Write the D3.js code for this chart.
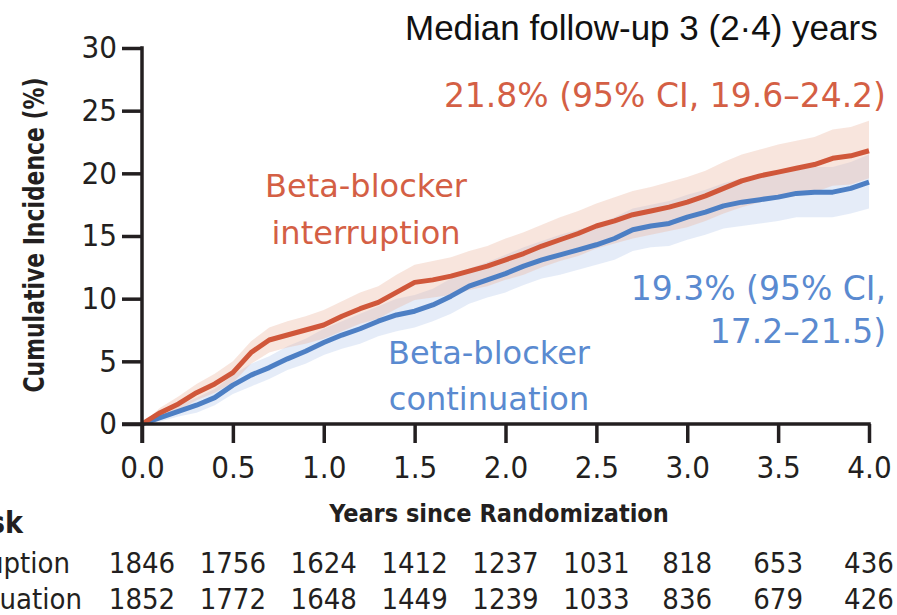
<!DOCTYPE html>
<meta charset="utf-8">
<style>
body { margin: 0; background: #fff; }
svg { display: block; background: #fff; }
.tick text { font-family: "DejaVu Sans Condensed", "DejaVu Sans", sans-serif; font-size: 31px; fill: #231f20; }
.tick line { stroke: #231f20; stroke-width: 3.5px; }
.axis-title { font-family: "DejaVu Sans Condensed", "DejaVu Sans", sans-serif; font-weight: bold; fill: #231f20; }
.risk { font-family: "DejaVu Sans Condensed", "DejaVu Sans", sans-serif; font-size: 29px; fill: #231f20; }
.note { font-family: "DejaVu Sans", sans-serif; font-size: 32px; }
</style>
<svg width="897" height="615"></svg>
<script src="https://cdn.jsdelivr.net/npm/d3@7"></script>
<script>

// years since randomization
var years = [0, 0.1, 0.2, 0.3, 0.4, 0.5, 0.6, 0.7, 0.8, 0.9, 1.0, 1.1, 1.2, 1.3, 1.4, 1.5, 1.6, 1.7, 1.8, 1.9, 2.0,
             2.1, 2.2, 2.3, 2.4, 2.5, 2.6, 2.7, 2.8, 2.9, 3.0, 3.1, 3.2, 3.3, 3.4, 3.5, 3.6, 3.7, 3.8, 3.9, 4.0];

// cumulative incidence (%), beta-blocker interruption
var interruption = [0, 0.9, 1.6, 2.5, 3.2, 4.1, 5.7, 6.7, 7.1, 7.5, 7.9, 8.6, 9.2, 9.7, 10.5, 11.3, 11.5, 11.8, 12.2, 12.6, 13.1,
                    13.6, 14.2, 14.7, 15.2, 15.8, 16.2, 16.7, 17.0, 17.3, 17.7, 18.2, 18.8, 19.4, 19.8, 20.1, 20.4, 20.7, 21.2, 21.4, 21.8];
var interruptionLo = [0, 0.5, 1.1, 1.9, 2.5, 3.3, 4.8, 5.7, 6.1, 6.4, 6.8, 7.4, 8.0, 8.4, 9.2, 9.9, 10.1, 10.3, 10.7, 11.0, 11.5,
                      11.9, 12.5, 13.0, 13.4, 14.0, 14.4, 14.8, 15.1, 15.4, 15.7, 16.2, 16.8, 17.3, 17.7, 18.0, 18.2, 18.5, 19.0, 19.1, 19.6];
var interruptionHi = [0, 1.3, 2.2, 3.2, 4.0, 5.0, 6.6, 7.7, 8.2, 8.6, 9.1, 9.8, 10.5, 11.0, 11.9, 12.7, 13.0, 13.3, 13.8, 14.2, 14.8,
                      15.3, 15.9, 16.5, 17.0, 17.6, 18.1, 18.6, 18.9, 19.3, 19.7, 20.2, 20.9, 21.5, 21.9, 22.3, 22.6, 22.9, 23.5, 23.7, 24.2];

// cumulative incidence (%), beta-blocker continuation
var continuation = [0, 0.5, 1.0, 1.5, 2.1, 3.1, 3.9, 4.5, 5.2, 5.8, 6.5, 7.1, 7.6, 8.2, 8.7, 9.0, 9.5, 10.2, 11.0, 11.5, 12.0,
                    12.6, 13.1, 13.5, 13.9, 14.3, 14.8, 15.5, 15.8, 16.0, 16.5, 16.9, 17.4, 17.7, 17.9, 18.1, 18.4, 18.5, 18.5, 18.8, 19.3];
var continuationLo = [0, 0.2, 0.6, 0.9, 1.5, 2.4, 3.0, 3.6, 4.3, 4.8, 5.5, 6.0, 6.4, 7.0, 7.4, 7.7, 8.2, 8.8, 9.6, 10.1, 10.5,
                      11.1, 11.6, 11.9, 12.3, 12.7, 13.1, 13.8, 14.1, 14.2, 14.7, 15.1, 15.6, 15.8, 16.0, 16.2, 16.5, 16.5, 16.5, 16.8, 17.2];
var continuationHi = [0, 0.8, 1.5, 2.1, 2.8, 3.9, 4.8, 5.4, 6.2, 6.8, 7.6, 8.2, 8.8, 9.4, 10.0, 10.3, 10.8, 11.6, 12.4, 12.9, 13.5,
                      14.1, 14.6, 15.1, 15.5, 15.9, 16.5, 17.2, 17.5, 17.8, 18.3, 18.7, 19.2, 19.6, 19.8, 20.0, 20.4, 20.5, 20.5, 20.9, 21.5];

// axis ticks and numbers at risk
var xTicks = [0, 0.5, 1, 1.5, 2, 2.5, 3, 3.5, 4];
var yTicks = [0, 5, 10, 15, 20, 25, 30];
var riskInterruption = [1846, 1756, 1624, 1412, 1237, 1031, 818, 653, 436];
var riskContinuation = [1852, 1772, 1648, 1449, 1239, 1033, 836, 679, 426];

var red = "#d0573a", blue = "#4d7fc4",
    redText = "#d45f45", blueText = "#5a8ad0";

var svg = d3.select("svg");

var x = d3.scaleLinear().domain([0, 4]).range([142, 869]),
    y = d3.scaleLinear().domain([0, 30]).range([424, 48]);

function band(lo, hi) {
  return d3.area()
      .x(function(d, i) { return x(years[i]); })
      .y0(function(d, i) { return y(lo[i]); })
      .y1(function(d, i) { return y(hi[i]); })(years);
}

function curve(v) {
  return d3.line()
      .x(function(d, i) { return x(years[i]); })
      .y(function(d, i) { return y(v[i]); })(years);
}

// confidence bands
svg.append("path").attr("d", band(continuationLo, continuationHi))
    .attr("fill", "#a8c0e8").attr("fill-opacity", 0.3);
svg.append("path").attr("d", band(interruptionLo, interruptionHi))
    .attr("fill", "#ebb59e").attr("fill-opacity", 0.35);

// curves
svg.append("path").attr("d", curve(continuation))
    .attr("fill", "none").attr("stroke", blue).attr("stroke-width", 5).attr("stroke-linejoin", "round");
svg.append("path").attr("d", curve(interruption))
    .attr("fill", "none").attr("stroke", red).attr("stroke-width", 5).attr("stroke-linejoin", "round");

// axes
var xAxis = svg.append("g")
    .attr("transform", "translate(0," + y(0) + ")")
    .call(d3.axisBottom(x).tickValues(xTicks).tickSize(19).tickSizeOuter(0).tickFormat(d3.format(".1f")));
xAxis.select(".domain").remove();
xAxis.selectAll(".tick text").attr("y", 54).attr("dy", null);

var yAxis = svg.append("g")
    .attr("transform", "translate(" + x(0) + ",0)")
    .call(d3.axisLeft(y).tickValues(yTicks).tickSize(20).tickSizeOuter(0).tickPadding(5));
yAxis.select(".domain").remove();

svg.append("line")
    .attr("x1", x(0) - 20).attr("x2", x(4) + 1.75)
    .attr("y1", y(0)).attr("y2", y(0))
    .attr("stroke", "#231f20").attr("stroke-width", 3.5);
svg.append("line")
    .attr("x1", x(0)).attr("x2", x(0))
    .attr("y1", y(30) - 1.75).attr("y2", y(0) + 19)
    .attr("stroke", "#231f20").attr("stroke-width", 3.5);

// axis titles (narrow bold face, squeezed along the reading direction)
svg.append("text")
    .attr("class", "axis-title")
    .attr("transform", "translate(44,235) rotate(-90) scale(0.87,1)")
    .attr("text-anchor", "middle")
    .style("font-size", "28px")
    .text("Cumulative Incidence (%)");

svg.append("text")
    .attr("class", "axis-title")
    .attr("x", 499).attr("y", 522)
    .attr("text-anchor", "middle")
    .style("font-size", "25px")
    .text("Years since Randomization");

// numbers at risk
svg.append("text").attr("class", "axis-title").attr("x", 23).attr("y", 533)
    .attr("text-anchor", "end").style("font-size", "30px").text("No. at Risk");
svg.append("text").attr("class", "risk").attr("x", 70).attr("y", 573)
    .attr("text-anchor", "end").text("Beta-blocker interruption");
svg.append("text").attr("class", "risk").attr("x", 82).attr("y", 609)
    .attr("text-anchor", "end").text("Beta-blocker continuation");

svg.append("g").selectAll("text").data(riskInterruption).join("text")
    .attr("class", "risk")
    .attr("x", function(d, i) { return x(xTicks[i]); })
    .attr("y", 573)
    .attr("text-anchor", "middle")
    .text(function(d) { return d; });
svg.append("g").selectAll("text").data(riskContinuation).join("text")
    .attr("class", "risk")
    .attr("x", function(d, i) { return x(xTicks[i]); })
    .attr("y", 609)
    .attr("text-anchor", "middle")
    .text(function(d) { return d; });

// annotations
svg.append("text")
    .attr("x", 405).attr("y", 40)
    .style("font-family", "'Liberation Sans', Arial, sans-serif").style("font-size", "35px").attr("fill", "#111")
    .text("Median follow-up 3 (2·4) years");

function note(lines, xPos, yPos, anchor, color, size) {
  var t = svg.append("text").attr("class", "note")
      .attr("text-anchor", anchor).attr("fill", color).style("font-size", size + "px");
  lines.forEach(function(s, i) {
    t.append("tspan").attr("x", xPos).attr("y", yPos[i]).text(s);
  });
}

note(["21.8% (95% CI, 19.6–24.2)"], 886, [107], "end", redText, 33);
note(["Beta-blocker", "interruption"], 366, [197, 244], "middle", redText, 32);
note(["Beta-blocker", "continuation"], 489, [364, 410], "middle", blueText, 32);
note(["19.3% (95% CI,", "17.2–21.5)"], 886, [300, 343], "end", blueText, 33);

</script>
